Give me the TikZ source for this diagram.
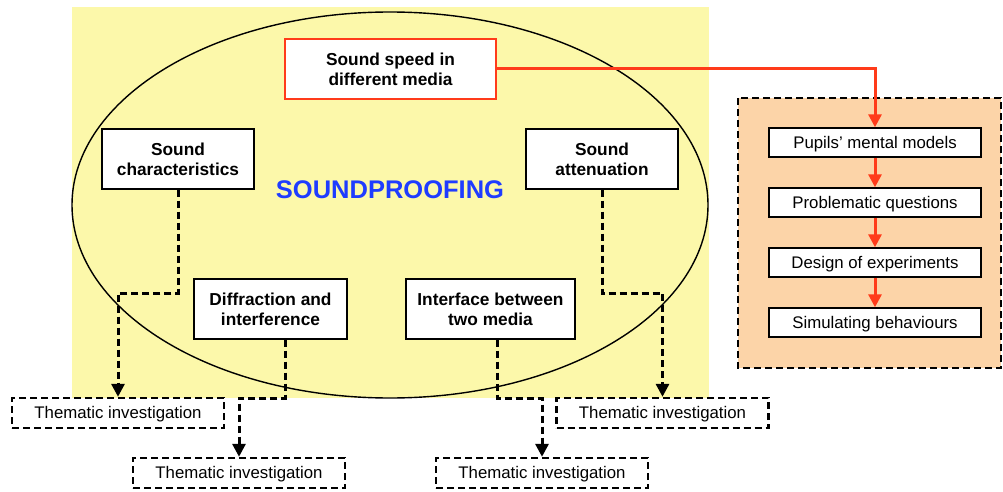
\documentclass[tikz,border=0pt]{standalone}
\usepackage{fontspec}
\setmainfont{Liberation Sans}
\usetikzlibrary{arrows.meta,calc}
\definecolor{bgyellow}{HTML}{FCF8AA}
\definecolor{bgorange}{HTML}{FCD4A8}
\definecolor{redl}{HTML}{FF3B1A}
\definecolor{blueT}{HTML}{1F3CFF}
\begin{document}
\begin{tikzpicture}[x=1pt,y=-1pt,
  topic/.style={draw=black,line width=1.4pt,fill=white,align=center,inner sep=0pt,
     font=\fontsize{17.3}{20}\selectfont\bfseries},
  stepbox/.style={draw=black,line width=1.4pt,fill=white,inner sep=0pt,minimum width=212pt,minimum height=29pt,
     text height=13pt,text depth=1.5pt,font=\fontsize{16.8}{19}\selectfont},
  thema/.style={draw=black,line width=2.4pt,dash pattern=on 7pt off 4pt,fill=white,inner sep=0pt,
     minimum width=212pt,minimum height=30pt,text height=13pt,text depth=1.5pt,font=\fontsize{16.8}{19}\selectfont},
  dlink/.style={draw=black,line width=3pt,dash pattern=on 7pt off 4pt,-{Triangle[length=13pt,width=13pt]}},
  rlink/.style={draw=redl,line width=3pt,-{Triangle[length=13pt,width=13pt]}}]
\useasboundingbox (0,0) rectangle (1003,492);
% backgrounds
\fill[bgyellow] (72,7) rectangle (709,398);
\draw[line width=1.4pt] (390,205) ellipse [x radius=318, y radius=193];
\draw[fill=bgorange,line width=2.4pt,dash pattern=on 7pt off 4pt] (738,98) rectangle (1001,368);
% topic nodes
\node[topic,draw=redl,minimum width=211pt,minimum height=60pt] (speed) at (390.5,69) {Sound speed in\\different media};
\node[topic,minimum width=152pt,minimum height=60pt] (charac) at (178,159) {Sound\\characteristics};
\node[topic,minimum width=152pt,minimum height=60pt] (atten) at (602,159) {Sound\\attenuation};
\node[topic,minimum width=153pt,minimum height=60pt] (diffr) at (270.5,309) {Diffraction and\\interference};
\node[topic,minimum width=169pt,minimum height=60pt] (inter) at (490.5,309) {Interface between\\two media};
\node[font=\fontsize{25.5}{30}\selectfont\bfseries,text=blueT] (title) at (390,190) {SOUNDPROOFING};
% steps
\node[stepbox] (s1) at (875,142.5) {Pupils’ mental models};
\node[stepbox] (s2) at (875,202.5) {Problematic questions};
\node[stepbox] (s3) at (875,262.5) {Design of experiments};
\node[stepbox] (s4) at (875,322.5) {Simulating behaviours};
% thematic investigations
\node[thema] (t1) at (118,413) {Thematic investigation};
\node[thema] (t2) at (239,473) {Thematic investigation};
\node[thema] (t3) at (542,473) {Thematic investigation};
\node[thema] (t4) at (662.5,413) {Thematic investigation};
% red links
\draw[rlink] (speed.east) -| (s1.north);
\draw[rlink] (s1.south) -- (s2.north);
\draw[rlink] (s2.south) -- (s3.north);
\draw[rlink] (s3.south) -- (s4.north);
% dashed links
\draw[dlink] (charac.south) |- (118,293) -- (t1.north);
\draw[dlink] ($(diffr.south)+(14.5,0)$) |- (239,398) -- (t2.north);
\draw[dlink] ($(inter.south)+(6.5,0)$) |- (542,398) -- (t3.north);
\draw[dlink] (atten.south) |- (662.5,293) -- (t4.north);
\end{tikzpicture}
\end{document}
